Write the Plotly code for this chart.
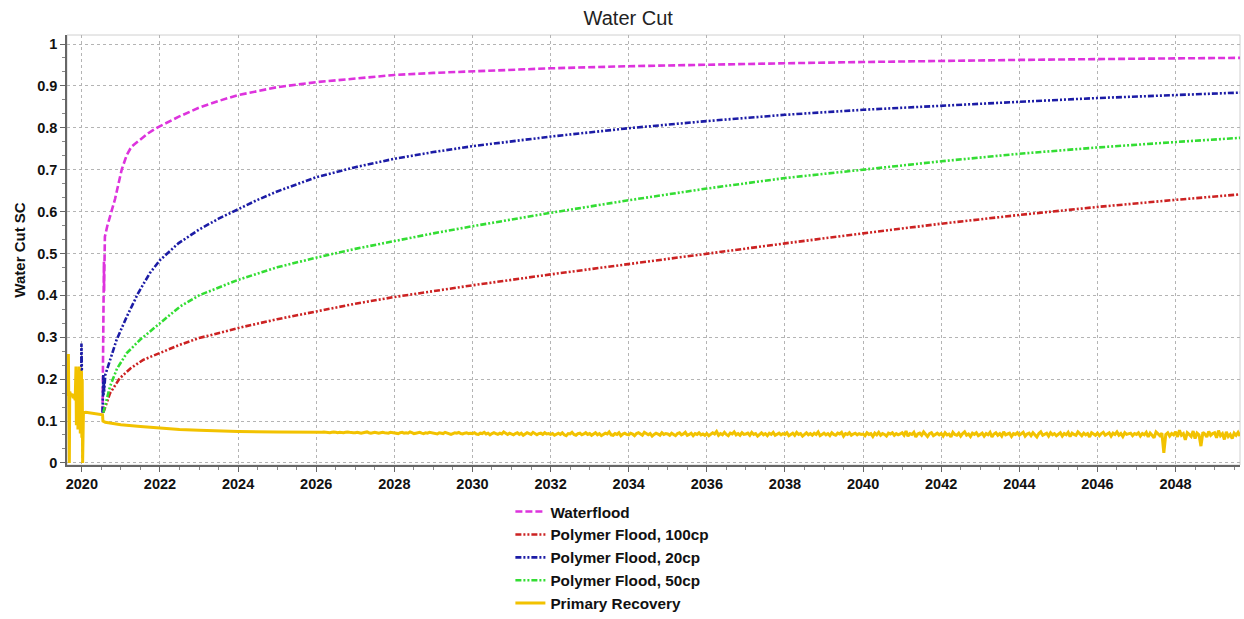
import plotly.graph_objects as go

# ---- Water cut forecasts (time in decimal years, water cut as fraction) ----
wf_t = [2020.53, 2020.535, 2020.54, 2020.545, 2020.55, 2020.555, 2020.56, 2020.565,
        2020.57, 2020.575, 2020.58, 2020.59, 2020.65, 2020.72, 2020.85, 2021.02,
        2021.15, 2021.27, 2021.49, 2021.7, 2021.92, 2022.47, 2023.0, 2023.5, 2024.0,
        2025.0, 2026.0, 2027.0, 2028.0, 2029.0, 2030.0, 2032.0, 2034.0, 2036.0,
        2038.0, 2040.0, 2042.0, 2044.0, 2046.0, 2048.0, 2049.65]
wf_v = [0.12, 0.21, 0.16, 0.30, 0.24, 0.40, 0.33, 0.48, 0.41, 0.52, 0.46, 0.54,
        0.565, 0.59, 0.63, 0.70, 0.735, 0.755, 0.772, 0.787, 0.80, 0.826, 0.848,
        0.864, 0.878, 0.897, 0.909, 0.918, 0.926, 0.931, 0.935, 0.942, 0.947,
        0.951, 0.954, 0.957, 0.960, 0.962, 0.964, 0.966, 0.967]

p100_t = [2020.55, 2020.72, 2020.97, 2021.25, 2021.57, 2022.0, 2022.51, 2023.0,
          2024.0, 2025.0, 2026.0, 2027.0, 2028.0, 2029.0, 2030.0, 2032.0, 2034.0,
          2036.0, 2038.0, 2040.0, 2042.0, 2044.0, 2046.0, 2048.0, 2049.65]
p100_v = [0.12, 0.166, 0.202, 0.226, 0.246, 0.262, 0.282, 0.298, 0.322, 0.343,
          0.362, 0.380, 0.396, 0.410, 0.424, 0.450, 0.475, 0.500, 0.524, 0.548,
          0.571, 0.592, 0.611, 0.628, 0.641]

p20_t = [2019.985, 2019.99, 2019.995, 2020.0, None,
         2020.53, 2020.54, 2020.545, 2020.55, 2020.555, 2020.56, 2020.57, 2020.6,
         2020.75, 2020.89, 2021.15, 2021.44, 2021.74, 2022.0, 2022.47, 2023.0,
         2023.5, 2024.0, 2024.5, 2025.0, 2026.0, 2027.0, 2028.0, 2029.0, 2030.0,
         2032.0, 2034.0, 2036.0, 2038.0, 2040.0, 2042.0, 2044.0, 2046.0, 2048.0,
         2049.65]
p20_v = [0.20, 0.285, 0.24, 0.22, None,
         0.12, 0.20, 0.15, 0.21, 0.16, 0.20, 0.17, 0.21,
         0.255, 0.294, 0.349, 0.405, 0.453, 0.484, 0.524, 0.557,
         0.583, 0.606, 0.628, 0.648, 0.682, 0.706, 0.726, 0.742, 0.756,
         0.779, 0.799, 0.816, 0.831, 0.843, 0.853, 0.862, 0.871, 0.879,
         0.884]

p50_t = [2020.55, 2020.72, 2020.9, 2021.15, 2021.49, 2022.0, 2022.51, 2023.0,
         2024.0, 2025.0, 2026.0, 2027.0, 2028.0, 2029.0, 2030.0, 2032.0, 2034.0,
         2036.0, 2038.0, 2040.0, 2042.0, 2044.0, 2046.0, 2048.0, 2049.65]
p50_v = [0.12, 0.182, 0.225, 0.262, 0.294, 0.334, 0.373, 0.400, 0.437, 0.467,
         0.490, 0.511, 0.530, 0.548, 0.565, 0.597, 0.627, 0.655, 0.680, 0.700,
         0.720, 0.738, 0.753, 0.766, 0.776]

# primary recovery: history period and early decline
pr_hist_t = [2019.63, 2019.645, 2019.655, 2019.665, 2019.68, 2019.69, 2019.72,
             2019.75, 2019.78, 2019.80, 2019.83, 2019.85, 2019.86, 2019.87,
             2019.88, 2019.89, 2019.90, 2019.91, 2019.92, 2019.93, 2019.94,
             2019.95, 2019.96, 2019.97, 2019.98, 2019.99, 2020.0, 2020.01,
             2020.02, 2020.04, 2020.1, 2020.2, 2020.3, 2020.4, 2020.5, 2020.53,
             2020.54, 2020.6, 2020.8, 2021.0, 2021.5, 2022.0, 2022.5, 2023.0,
             2023.5, 2024.0, 2025.0]
pr_hist_v = [0.17, 0.16, 0.26, 0.0, 0.0, 0.17, 0.16, 0.165, 0.155, 0.16, 0.15,
             0.23, 0.09, 0.21, 0.12, 0.22, 0.08, 0.20, 0.10, 0.23, 0.14, 0.22,
             0.07, 0.19, 0.11, 0.22, 0.06, 0.20, 0.0, 0.12, 0.121, 0.120, 0.119,
             0.118, 0.116, 0.115, 0.100, 0.097, 0.094, 0.091, 0.087, 0.083,
             0.080, 0.078, 0.076, 0.075, 0.074]

# primary recovery: forecast from 2026 onward every 0.05 yr (x1000), one row per year
pr_tail_start = 2026.0
pr_tail_step = 0.05
pr_tail_milli = [
    73, 73, 72, 73, 74, 73, 72, 72, 73, 74, 73, 72, 73, 72, 72, 73, 74, 73, 72, 72,
    72, 73, 72, 71, 72, 73, 74, 72, 71, 72, 73, 72, 71, 72, 73, 72, 72, 71, 73, 72,
    72, 71, 70, 72, 73, 71, 72, 71, 74, 72, 70, 71, 72, 73, 71, 70, 72, 71, 73, 72,
    71, 70, 69, 72, 71, 70, 73, 71, 69, 68, 70, 72, 71, 73, 70, 69, 71, 72, 70, 71,
    70, 72, 69, 68, 71, 70, 73, 69, 71, 67, 70, 72, 70, 68, 71, 69, 74, 70, 68, 71,
    69, 67, 70, 72, 68, 71, 66, 69, 72, 70, 68, 73, 69, 67, 70, 71, 68, 72, 69, 70,
    68, 70, 66, 69, 71, 68, 72, 67, 65, 70, 69, 73, 68, 66, 70, 71, 67, 69, 72, 68,
    70, 66, 69, 72, 67, 70, 65, 68, 71, 69, 74, 67, 66, 70, 68, 72, 65, 69, 71, 68,
    67, 71, 69, 65, 70, 72, 68, 66, 73, 69, 67, 70, 64, 68, 71, 69, 66, 72, 68, 70,
    69, 66, 71, 68, 65, 70, 72, 67, 69, 73, 66, 68, 71, 65, 70, 68, 72, 67, 69, 66,
    70, 65, 68, 72, 69, 75, 66, 70, 67, 73, 68, 65, 71, 69, 74, 67, 70, 66, 72, 68,
    69, 71, 66, 73, 68, 70, 64, 69, 72, 67, 70, 65, 71, 68, 73, 66, 69, 71, 67, 70,
    68, 72, 65, 69, 71, 66, 73, 68, 70, 64, 69, 72, 67, 70, 66, 71, 68, 74, 65, 69,
    71, 67, 70, 65, 72, 68, 66, 71, 69, 73, 64, 70, 68, 72, 66, 69, 71, 67, 70, 68,
    69, 65, 72, 68, 70, 63, 71, 67, 73, 66, 70, 68, 64, 71, 69, 72, 66, 70, 67, 69,
    72, 66, 76, 64, 70, 68, 73, 62, 69, 71, 66, 74, 68, 63, 70, 72, 65, 69, 71, 67,
    70, 64, 72, 67, 69, 62, 73, 68, 66, 71, 64, 70, 74, 66, 69, 63, 71, 68, 72, 65,
    68, 71, 64, 70, 67, 73, 62, 69, 72, 66, 70, 64, 74, 67, 69, 71, 63, 70, 68, 72,
    66, 70, 73, 64, 69, 71, 65, 72, 68, 62, 70, 74, 66, 69, 71, 64, 72, 67, 70, 65,
    69, 72, 64, 70, 67, 73, 63, 71, 68, 66, 74, 69, 65, 71, 67, 70, 62, 72, 69, 66,
    71, 65, 70, 73, 66, 69, 72, 64, 71, 68, 74, 66, 70, 63, 72, 68, 69, 71, 65, 70,
    68, 72, 64, 70, 67, 73, 62, 71, 66, 60, 74, 69, 65, 71, 24, 68, 72, 64, 70, 67,
    74, 62, 78, 66, 70, 55, 72, 68, 63, 76, 58, 71, 67, 40, 73, 69, 62, 75, 66, 70,
    72, 60, 77, 65, 70, 56, 74, 63, 68, 58, 71, 66, 73, 64,
]

x_tick_vals = list(range(2020, 2050, 2))
x_tick_text = [str(v) for v in x_tick_vals]
y_tick_vals = [0, 0.1, 0.2, 0.3, 0.4, 0.5, 0.6, 0.7, 0.8, 0.9, 1.0]
y_tick_text = ["0", "0.1", "0.2", "0.3", "0.4", "0.5", "0.6", "0.7", "0.8", "0.9", "1"]

# assemble the primary-recovery series
pr_tail_t = [pr_tail_start + i * pr_tail_step for i in range(len(pr_tail_milli))]
pr_t = pr_hist_t + pr_tail_t
pr_v = pr_hist_v + [m / 1000.0 for m in pr_tail_milli]

FONT = "Liberation Sans, Arial, sans-serif"
dashdotdot = "6px,2px,2px,2px,2px,2px"

fig = go.Figure()
fig.add_trace(go.Scatter(x=wf_t, y=wf_v, mode="lines", name="Waterflood",
                         line=dict(color="#dd33dd", width=2.6, dash="7px,3px")))
fig.add_trace(go.Scatter(x=p100_t, y=p100_v, mode="lines", name="Polymer Flood, 100cp",
                         line=dict(color="#cc2222", width=2.6, dash=dashdotdot)))
fig.add_trace(go.Scatter(x=p20_t, y=p20_v, mode="lines", name="Polymer Flood, 20cp",
                         line=dict(color="#1c1ca6", width=2.6, dash=dashdotdot)))
fig.add_trace(go.Scatter(x=p50_t, y=p50_v, mode="lines", name="Polymer Flood, 50cp",
                         line=dict(color="#33dd33", width=2.6, dash=dashdotdot)))
fig.add_trace(go.Scatter(x=pr_t, y=pr_v, mode="lines", name="Primary Recovery",
                         line=dict(color="#f2c200", width=3)))

grid = "#b4b4b4"
fig.update_layout(
    width=1244, height=619,
    margin=dict(l=67, r=4, t=35, b=154, autoexpand=False),
    paper_bgcolor="white", plot_bgcolor="white",
    font=dict(family=FONT, color="#111111"),
    title=dict(text="Water Cut", x=0.505, xanchor="center", y=0.971, yanchor="middle",
               font=dict(family=FONT, size=20, color="#222222")),
    showlegend=True,
    legend=dict(x=0.378, y=-0.07, xanchor="left", yanchor="top", orientation="v",
                font=dict(family=FONT, size=15.3, weight="bold", color="#111111"),
                itemwidth=30, tracegroupgap=0, bgcolor="rgba(0,0,0,0)"),
)
fig.update_xaxes(
    range=[2019.62, 2049.65], tickvals=x_tick_vals, ticktext=x_tick_text,
    tickfont=dict(family=FONT, size=14.5, weight="bold", color="#111111"),
    showgrid=True, gridcolor=grid, griddash="dot", gridwidth=1,
    showline=True, linecolor="#666666", linewidth=1.5, mirror=False,
    ticks="outside", ticklen=5, tickcolor="#666666",
    minor=dict(dtick=0.5, tick0=2020, ticks="outside", ticklen=3, tickcolor="#888888",
               showgrid=False),
    zeroline=False,
)
fig.update_yaxes(
    range=[-0.005, 1.0215], tickvals=y_tick_vals, ticktext=y_tick_text,
    tickfont=dict(family=FONT, size=14.5, weight="bold", color="#111111"),
    title=dict(text="Water Cut SC", standoff=8,
               font=dict(family=FONT, size=15, weight="bold", color="#111111")),
    showgrid=True, gridcolor=grid, griddash="dot", gridwidth=1,
    showline=True, linecolor="#666666", linewidth=1.5, mirror=False,
    ticks="outside", ticklen=5, tickcolor="#666666",
    minor=dict(dtick=0.1 / 3, tick0=0, ticks="outside", ticklen=3, tickcolor="#888888",
               showgrid=False),
    zeroline=False,
)
# light frame on top and right of the plotting area
fig.add_shape(type="rect", xref="paper", yref="paper", x0=0, y0=0, x1=1, y1=1,
              line=dict(color="#d0d0d0", width=1), layer="below")

fig.write_html("out.html")
